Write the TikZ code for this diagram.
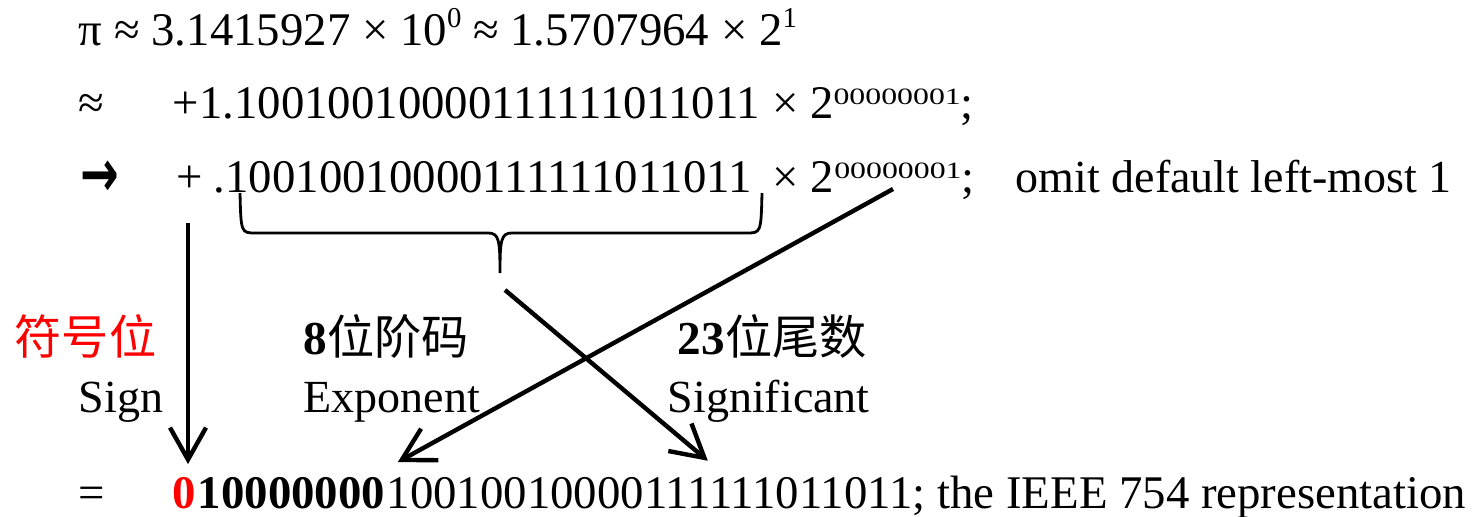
\documentclass[tikz,border=0pt]{standalone}
\usepackage{fontspec}
\setmainfont{Liberation Serif}
\newfontfamily\cjk{Noto Sans CJK SC}
\newfontfamily\arrfont{DejaVu Sans}
\usepackage{graphicx}
\usetikzlibrary{arrows.meta, positioning, calc}
\newcommand{\powA}[1]{\raisebox{4.5pt}{\fontsize{7.2}{8}\selectfont #1}}
\newcommand{\powB}[1]{\raisebox{3.5pt}{\scalebox{0.68}[0.5]{#1}}}

\begin{document}
\begin{tikzpicture}[x=0.25pt, y=-0.25pt,
  txt/.style={anchor=base west, inner sep=0pt, font=\fontsize{11.5}{13}\selectfont},
  num/.style={txt, font=\fontsize{11.7}{13}\selectfont},
  bld/.style={txt, font=\fontsize{11.7}{13}\selectfont\bfseries},
  cn/.style={anchor=west, inner sep=0pt, font=\fontsize{11.8}{13}\selectfont},
  arr/.style={-{Straight Barb[length=8pt, width=9pt]}, line width=1.1pt},
  brc/.style={line width=0.7pt}]
  \useasboundingbox (0,0) rectangle (1476,516);

  % conversion lines
  \node[num] (rowA) at (78,45) {π ≈ 3.1415927 × 10\powA{0} ≈ 1.5707964 × 2\powA{1}};
  \node[num] (apx) at (78,118) {≈};
  \node[num] (rowB) at (172,118) {+1.10010010000111111011011 × 2\powB{00000001};};
  \node[txt, font=\fontsize{11}{13}\selectfont\arrfont\bfseries] (to) at (80,196) {\scalebox{1.05}[1.5]{→}};
  \node[num] (plus) at (176,192) {+};
  \node[num] (frac) at (213,192) {.10010010000111111011011};
  \node[num] (pw) at (772,192) {× 2\powB{00000001};};
  \node[txt] (note) at (1015,192) {omit default left-most 1};

  % field labels
  \node[cn, red] (signcn) at (14,336) {\cjk 符号位};
  \node[cn] (expcn) at (303,336) {{\bfseries 8}{\cjk 位阶码}};
  \node[cn] (mancn) at (677,336) {{\bfseries 23}{\cjk 位尾数}};
  \node[txt] (sign) at (78,412) {Sign};
  \node[txt] (expo) at (303,412) {Exponent};
  \node[txt] (signif) at (667,412) {Significant};

  % result
  \node[num] (eq) at (78,508) {=};
  \node[bld, red] (zero) at (172,508) {0};
  \node[bld] (expbits) at (zero.base east) {10000000};
  \node[num] (mant) at (expbits.base east) {10010010000111111011011; the IEEE 754 representation};

  % brace under the fraction
  \coordinate (bracetip) at (500,273);
  \draw[brc] (240,193) .. controls (241,233) and (241,233) .. (256,233) -- (488,233)
    .. controls (499,233) and (500,240) .. (bracetip)
    .. controls (500,240) and (501,233) .. (512,233) -- (746,233)
    .. controls (761,233) and (761,233) .. (762,193);

  \coordinate (efrom) at (893,189);
  \coordinate (mfrom) at (505,290);
  \coordinate (zerotop) at (plus.south |- zero.north);
  \draw[arr] ([shift={(-2,30)}]plus.south) -- ([shift={(-2,-12)}]zerotop);
  \draw[arr] (efrom) -- ([shift={(12,-14)}]expbits.north east);
  \draw[arr] (mfrom) -- ([shift={(322,-14)}]mant.north west);
\end{tikzpicture}
\end{document}
